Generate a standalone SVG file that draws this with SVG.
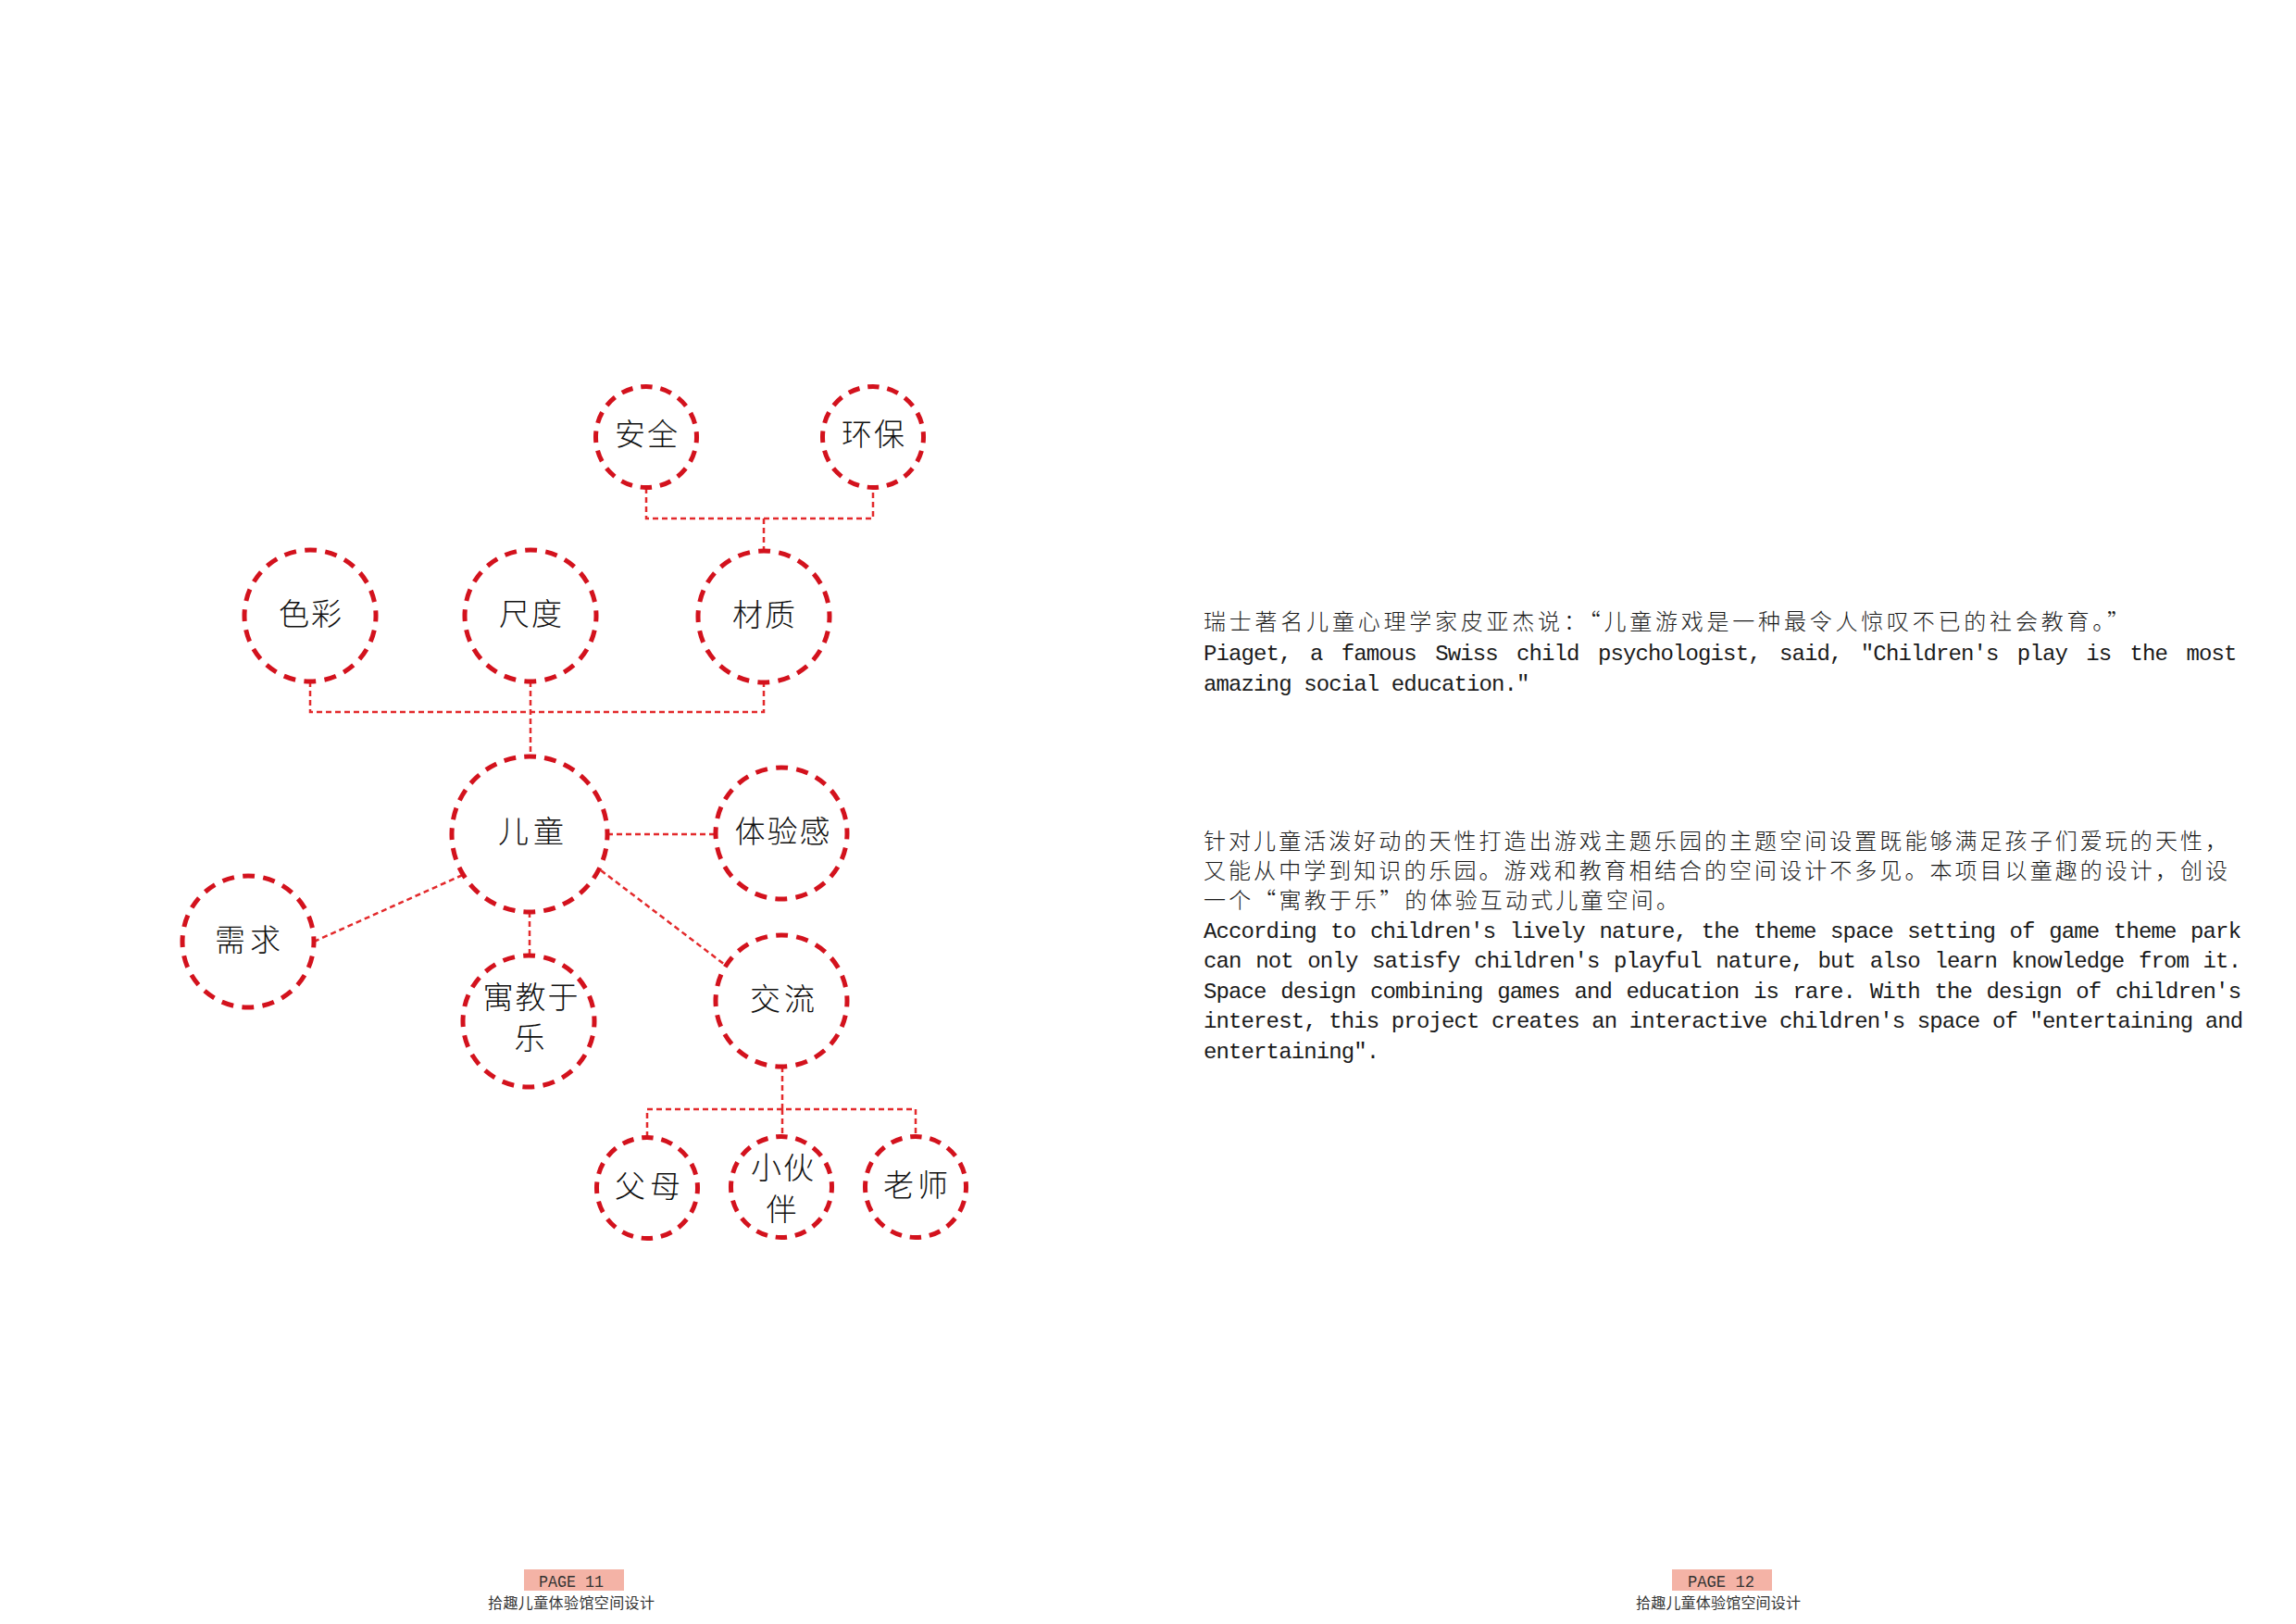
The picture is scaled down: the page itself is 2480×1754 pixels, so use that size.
<svg xmlns="http://www.w3.org/2000/svg" width="2480" height="1754" viewBox="0 0 2480 1754">
<style>
.node circle{fill:none;stroke:#d3121d;stroke-width:5}
.lg{stroke-dasharray:13 8.99;stroke-dashoffset:6.5}
.md{stroke-dasharray:13 9.31;stroke-dashoffset:6.5}
.sm{stroke-dasharray:12.5 8.9;stroke-dashoffset:6.25}
.node text{font-family:"Noto Sans CJK SC",sans-serif;font-weight:300;font-size:33px;letter-spacing:2px;fill:#111;text-anchor:middle}
.conn path{fill:none;stroke:#e32a2c;stroke-width:2.5;stroke-dasharray:6 4}
.zh{font-family:"Noto Sans CJK SC",sans-serif;font-weight:300;font-size:24px;fill:#1a1a1a}
.en{font-family:"Liberation Mono","Noto Sans CJK SC",monospace;font-size:24px;letter-spacing:-0.88px;fill:#1a1a1a}
.pg{font-family:"Liberation Mono",monospace;font-size:18px;fill:#333}
.ft{font-family:"Noto Sans CJK SC",sans-serif;font-size:16px;fill:#333}
</style>
<rect width="2480" height="1754" fill="#ffffff"/>
<g id="connectors" class="conn">
<path d="M698 527 V560 H943 V527"/>
<path d="M825 560 V595"/>
<path d="M335 736 V769 H825 V737"/>
<path d="M573 736 V817"/>
<path d="M656 901 H773"/>
<path d="M339 1017 L502 944"/>
<path d="M649 940 L783 1042"/>
<path d="M572 985 V1032"/>
<path d="M845 1152 V1198"/>
<path d="M699 1228 V1198 H989 V1228"/>
<path d="M845 1198 V1228"/>
</g>
<g id="n-anquan" class="node"><circle class="sm" cx="698" cy="472" r="54.5"/><text x="699" y="481">安全</text></g>
<g id="n-huanbao" class="node"><circle class="sm" cx="943" cy="472" r="54.5"/><text x="944" y="481">环保</text></g>
<g id="n-secai" class="node"><circle class="md" cx="335" cy="665" r="71"/><text x="336" y="675">色彩</text></g>
<g id="n-chidu" class="node"><circle class="md" cx="573" cy="665" r="71"/><text x="574" y="675">尺度</text></g>
<g id="n-caizhi" class="node"><circle class="md" cx="825" cy="666" r="71"/><text x="826" y="676">材质</text></g>
<g id="n-ertong" class="node"><circle class="lg" cx="572" cy="901" r="84"/><text x="576" y="910" style="letter-spacing:5px">儿童</text></g>
<g id="n-tiyangan" class="node"><circle class="md" cx="844" cy="900" r="71"/><text x="846" y="910">体验感</text></g>
<g id="n-xuqiu" class="node"><circle class="md" cx="268" cy="1017" r="71"/><text x="270" y="1027" style="letter-spacing:5px">需求</text></g>
<g id="n-yujiaoyule" class="node"><circle class="md" cx="571" cy="1103" r="71"/><text x="574" y="1089">寓教于</text><text x="573" y="1133">乐</text></g>
<g id="n-jiaoliu" class="node"><circle class="md" cx="844" cy="1081" r="71"/><text x="847" y="1091" style="letter-spacing:4px">交流</text></g>
<g id="n-fumu" class="node"><circle class="sm" cx="699" cy="1283" r="54.5"/><text x="702" y="1293" style="letter-spacing:5px">父母</text></g>
<g id="n-xiaohuoban" class="node"><circle class="sm" cx="844" cy="1282" r="54.5"/><text x="846" y="1273">小伙</text><text x="845" y="1318">伴</text></g>
<g id="n-laoshi" class="node"><circle class="sm" cx="989" cy="1282" r="54.5"/><text x="991" y="1292" style="letter-spacing:4px">老师</text></g>
<g id="text-quote">
<text class="zh" x="1300" y="680" textLength="1000" lengthAdjust="spacing">瑞士著名儿童心理学家皮亚杰说：“儿童游戏是一种最令人惊叹不已的社会教育。”</text>
<text class="en" x="1300" y="713" style="word-spacing:6.75px">Piaget, a famous Swiss child psychologist, said, "Children's play is the most</text>
<text class="en" x="1300" y="746">amazing social education."</text>
</g>
<g id="text-desc">
<text class="zh" x="1300" y="917" textLength="1106" lengthAdjust="spacing">针对儿童活泼好动的天性打造出游戏主题乐园的主题空间设置既能够满足孩子们爱玩的天性，</text>
<text class="zh" x="1300" y="949" textLength="1106" lengthAdjust="spacing">又能从中学到知识的乐园。游戏和教育相结合的空间设计不多见。本项目以童趣的设计，创设</text>
<text class="zh" x="1300" y="981" textLength="513" lengthAdjust="spacing">一个“寓教于乐”的体验互动式儿童空间。</text>
<text class="en" x="1300" y="1013" style="word-spacing:2.07px">According to children's lively nature, the theme space setting of game theme park</text>
<text class="en" x="1300" y="1045" style="word-spacing:2.07px">can not only satisfy children's playful nature, but also learn knowledge from it.</text>
<text class="en" x="1300" y="1078" style="word-spacing:2.07px">Space design combining games and education is rare. With the design of children's</text>
<text class="en" x="1300" y="1110">interest, this project creates an interactive children's space of "entertaining and</text>
<text class="en" x="1300" y="1143">entertaining".</text>
</g>
<g id="footer-11">
<rect x="566" y="1695" width="108" height="23" fill="#f4b3a6"/>
<text class="pg" x="582" y="1714" textLength="70" lengthAdjust="spacingAndGlyphs">PAGE 11</text>
<text class="ft" x="527" y="1737" textLength="180" lengthAdjust="spacing">拾趣儿童体验馆空间设计</text>
</g>
<g id="footer-12">
<rect x="1806" y="1695" width="108" height="23" fill="#f4b3a6"/>
<text class="pg" x="1823" y="1714" textLength="72" lengthAdjust="spacingAndGlyphs">PAGE 12</text>
<text class="ft" x="1767" y="1737" textLength="178" lengthAdjust="spacing">拾趣儿童体验馆空间设计</text>
</g>
</svg>
